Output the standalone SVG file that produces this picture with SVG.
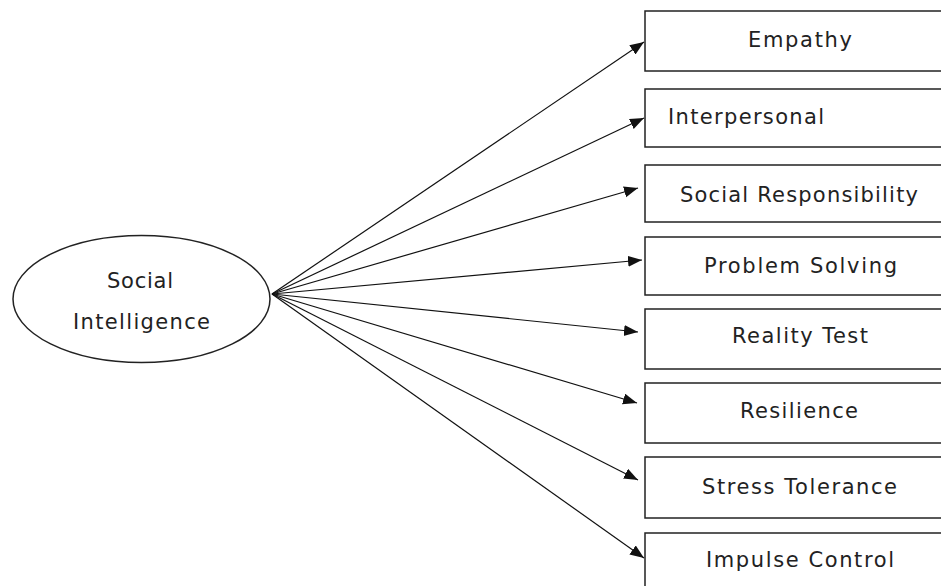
<svg xmlns="http://www.w3.org/2000/svg" width="941" height="586" viewBox="0 0 941 586">
<style>
.box{fill:#fff;stroke:#222;stroke-width:1.5}
.lbl{font-family:"DejaVu Sans","Liberation Sans",sans-serif;font-size:21px;fill:#222}
.edge{stroke:#111;stroke-width:1.2;fill:none;marker-end:url(#ah)}
</style>
<defs>
<marker id="ah" markerUnits="userSpaceOnUse" markerWidth="15" markerHeight="12" refX="14" refY="5.5" orient="auto">
<path d="M0,0 L14,5.5 L0,11 Z" fill="#111"/>
</marker>
</defs>
<rect width="941" height="586" fill="#fff"/>
<g id="n-social-intelligence">
<ellipse cx="141.5" cy="299" rx="128.5" ry="63.5" class="box"/>
<text class="lbl" x="107" y="288" textLength="66" lengthAdjust="spacing">Social</text>
<text class="lbl" x="73" y="329" textLength="137" lengthAdjust="spacing">Intelligence</text>
</g>
<g id="n-empathy">
<rect x="645" y="11" width="310" height="60" class="box"/>
<text class="lbl" x="748" y="47" textLength="104" lengthAdjust="spacing">Empathy</text>
</g>
<g id="n-interpersonal">
<rect x="645" y="89" width="310" height="58" class="box"/>
<text class="lbl" x="668" y="124" textLength="156" lengthAdjust="spacing">Interpersonal</text>
</g>
<g id="n-social-responsibility">
<rect x="645" y="165" width="310" height="57" class="box"/>
<text class="lbl" x="680" y="202" textLength="238" lengthAdjust="spacing">Social Responsibility</text>
</g>
<g id="n-problem-solving">
<rect x="645" y="237" width="310" height="58" class="box"/>
<text class="lbl" x="704" y="273" textLength="193" lengthAdjust="spacing">Problem Solving</text>
</g>
<g id="n-reality-test">
<rect x="645" y="309" width="310" height="60" class="box"/>
<text class="lbl" x="732" y="343" textLength="136" lengthAdjust="spacing">Reality Test</text>
</g>
<g id="n-resilience">
<rect x="645" y="383" width="310" height="60" class="box"/>
<text class="lbl" x="740" y="418" textLength="118" lengthAdjust="spacing">Resilience</text>
</g>
<g id="n-stress-tolerance">
<rect x="645" y="457" width="310" height="61" class="box"/>
<text class="lbl" x="702" y="494" textLength="195" lengthAdjust="spacing">Stress Tolerance</text>
</g>
<g id="n-impulse-control">
<rect x="645" y="533" width="310" height="70" class="box"/>
<text class="lbl" x="706" y="567" textLength="188" lengthAdjust="spacing">Impulse Control</text>
</g>
<g id="connectors">
<line class="edge" x1="272" y1="294" x2="644" y2="42"/>
<line class="edge" x1="272" y1="294" x2="644" y2="118"/>
<line class="edge" x1="272" y1="294" x2="638" y2="188"/>
<line class="edge" x1="272" y1="294" x2="642" y2="260"/>
<line class="edge" x1="272" y1="294" x2="638" y2="332"/>
<line class="edge" x1="272" y1="294" x2="637" y2="403"/>
<line class="edge" x1="272" y1="294" x2="638" y2="480"/>
<line class="edge" x1="272" y1="294" x2="644" y2="558"/>
</g>
</svg>
